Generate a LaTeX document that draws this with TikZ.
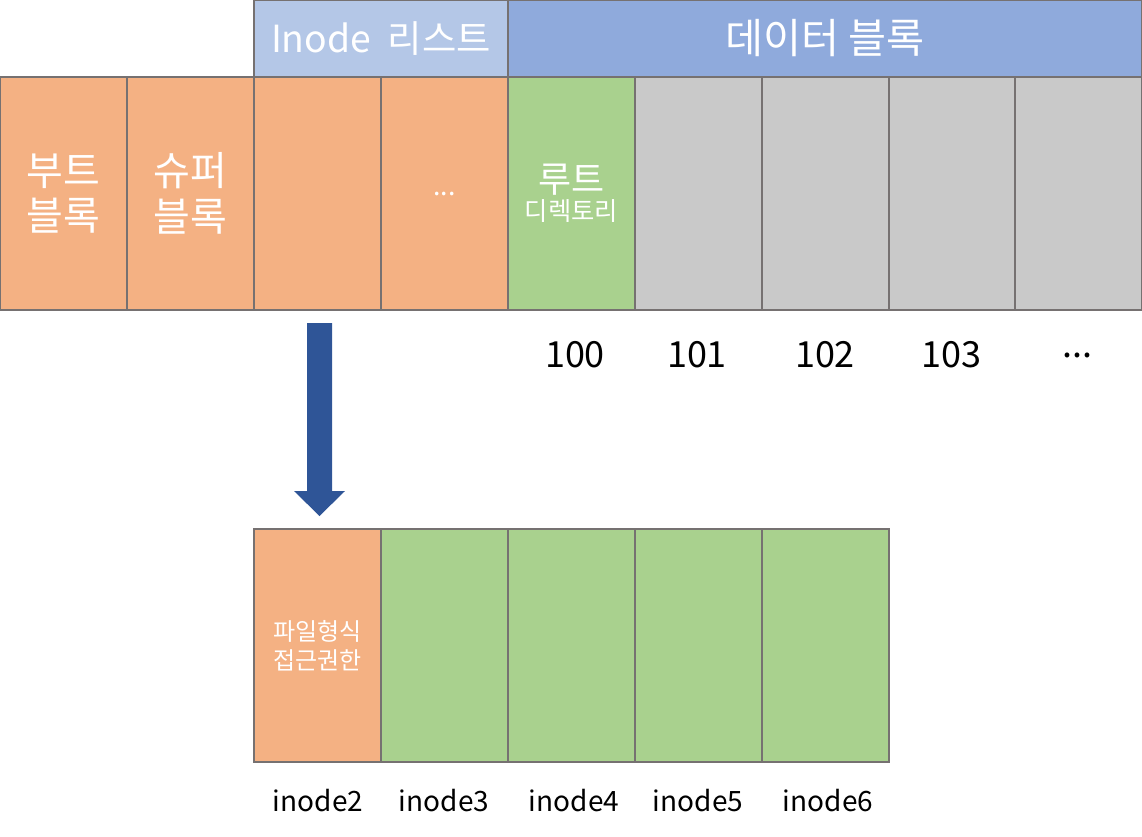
\documentclass[tikz,border=0pt]{standalone}
\usepackage{fontspec}
\setmainfont{Noto Sans CJK KR}
\usetikzlibrary{positioning}
\definecolor{borderc}{HTML}{767171}
\definecolor{orangec}{HTML}{F4B183}
\definecolor{greenc}{HTML}{A9D18E}
\definecolor{grayc}{HTML}{C9C9C9}
\definecolor{lblue}{HTML}{B4C7E7}
\definecolor{mblue}{HTML}{8FAADC}
\definecolor{arrowc}{HTML}{2F5597}
\tikzset{
  cell/.style={draw=borderc, line width=1.5pt, minimum width=95.25pt, minimum height=174.75pt, inner sep=0pt, text=white, align=center},
  hdr/.style={draw=borderc, line width=1.5pt, minimum height=57.75pt, inner sep=0pt, text=white},
  bigk/.style={font=\fontsize{30}{34}\selectfont},
  numlbl/.style={font=\fontsize{27}{30}\selectfont, text=black},
  inlbl/.style={font=\fontsize{21}{24}\selectfont, text=black},
}
\begin{document}
\begin{tikzpicture}[x=0.75pt,y=-0.75pt]
\useasboundingbox (0,0) rectangle (1142,836);
% header
\node[hdr, fill=lblue, minimum width=190.5pt, font=\fontsize{28}{30}\selectfont] (hinode) at (381,38.5) {Inode\hspace{0.45em}리스트};
\node[hdr, fill=mblue, minimum width=475.5pt, font=\fontsize{31}{34}\selectfont] (hdata) at (825,38.5) {데이터 블록};
% main row
\node[cell, fill=orangec, bigk] (boot) at (63.5,193.5) {부트\\블록};
\node[cell, fill=orangec, bigk] (super) at (190.5,193.5) {슈퍼\\블록};
\node[cell, fill=orangec] (in1) at (317.5,193.5) {};
\node[cell, fill=orangec, font=\fontsize{20}{24}\selectfont] (in2) at (444.5,193.5) {...};
\node[cell, fill=greenc] (d100) at (571.5,193.5) {{\fontsize{27}{30}\selectfont 루트}\\[2pt]{\fontsize{19}{22}\selectfont 디렉토리}};
\node[cell, fill=grayc] (d101) at (698,193.5) {};
\node[cell, fill=grayc] (d102) at (825,193.5) {};
\node[cell, fill=grayc] (d103) at (952,193.5) {};
\node[cell, fill=grayc] (d104) at (1078.5,193.5) {};
% number labels
\node[numlbl] (n100) at (575,355) {100};
\node[numlbl] (n101) at (697,355) {101};
\node[numlbl] (n102) at (825,355) {102};
\node[numlbl] (n103) at (951,355) {103};
\node[numlbl] (n104) at (1077,355) {...};
% arrow
\fill[arrowc] (307,323) -- (332,323) -- (332,491) -- (345,491) -- (319.5,516) -- (294,491) -- (307,491) -- cycle;
% bottom row
\node[cell, fill=orangec, font=\fontsize{18}{22}\selectfont] (i2) at (317.5,645.5) {파일형식\\접근권한};
\node[cell, fill=greenc] (i3) at (444.5,645.5) {};
\node[cell, fill=greenc] (i4) at (571.5,645.5) {};
\node[cell, fill=greenc] (i5) at (698,645.5) {};
\node[cell, fill=greenc] (i6) at (825,645.5) {};
% inode labels
\node[inlbl] (l2) at (318,801) {inode2};
\node[inlbl] (l3) at (444,801) {inode3};
\node[inlbl] (l4) at (574,801) {inode4};
\node[inlbl] (l5) at (698,801) {inode5};
\node[inlbl] (l6) at (828,801) {inode6};
\end{tikzpicture}
\end{document}
